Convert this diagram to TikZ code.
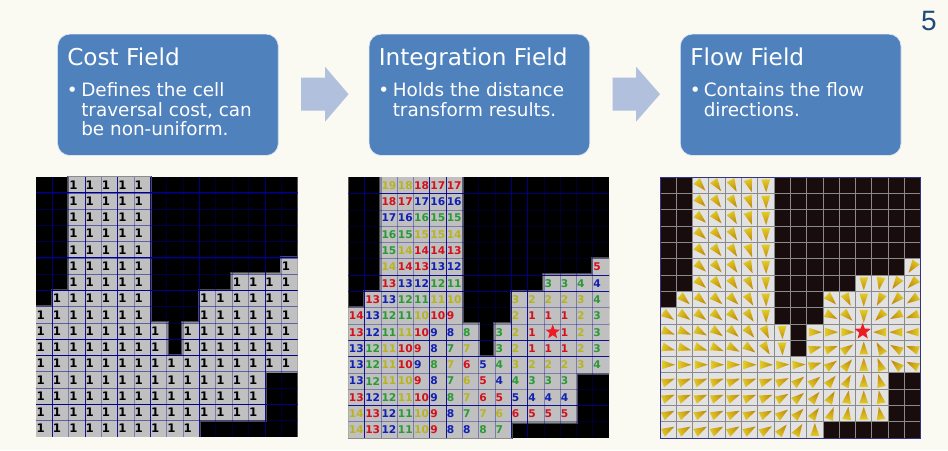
\documentclass[tikz,border=0pt]{standalone}
\usepackage{fontspec}
\setmainfont{DejaVu Sans}
\newfontfamily\pagefont{Liberation Sans}
\usetikzlibrary{shapes.geometric}
\definecolor{pagebg}{HTML}{FAF9F2}
\definecolor{boxblue}{HTML}{4F81BD}
\definecolor{boxedge}{HTML}{DCE6F1}
\definecolor{arrowblue}{HTML}{B0C0DD}
\definecolor{pagenum}{HTML}{1F497D}
\definecolor{cellgray}{HTML}{C0C0C0}
\definecolor{gridblue}{HTML}{00008C}
\definecolor{flowcell}{HTML}{E2E2E2}
\definecolor{flowdark}{HTML}{180C0C}
\definecolor{flowgrid}{HTML}{8A8A8A}
\definecolor{flowedge}{HTML}{33338A}
\definecolor{wedgetip}{HTML}{C08C0C}
\definecolor{wedgebase}{HTML}{E2CC28}
\definecolor{numy}{HTML}{B8B420}
\definecolor{numr}{HTML}{D4101C}
\definecolor{numg}{HTML}{2A9A34}
\definecolor{numb}{HTML}{1020B4}
\definecolor{starred}{HTML}{ED1C24}
\tikzset{
  fieldbox/.style={anchor=north west,rounded corners=9pt,fill=boxblue,draw=boxedge,line width=.5pt,
    minimum width=165.5pt,minimum height=91pt,inner sep=0pt},
  boxtitle/.style={anchor=base west,inner sep=0pt,text=white,font=\fontsize{17.4}{20}\selectfont},
  boxbody/.style={anchor=north west,inner sep=0pt,text=white,align=left,font=\fontsize{13.8}{14.85}\selectfont},
  boxbullet/.style={anchor=base,inner sep=0pt,text=white,font=\fontsize{13.8}{14.85}\selectfont},
  blockarrow/.style={fill=arrowblue},
  costnum/.style={anchor=west,inner sep=0pt,font=\fontsize{8.8}{9}\selectfont\bfseries,text=black},
  intnum/.style={anchor=west,inner sep=0pt,font=\fontsize{8}{9}\selectfont\bfseries},
  goalstar/.style={star,star points=5,star point ratio=2.4,fill=starred,inner sep=0pt},
}
% free-cell ranges: row/first/last
\def\freeranges{0/2/6,1/2/6,2/2/6,3/2/6,4/2/6,5/2/6,5/15/15,6/2/6,6/12/15,7/1/6,7/10/15,8/0/6,8/10/15,9/0/7,9/9/15,10/0/7,10/9/15,11/0/15,12/0/13,13/0/13,14/0/13,15/0/9}
\begin{document}
\begin{tikzpicture}[x=.75pt,y=-.75pt]
\useasboundingbox (0,0) rectangle (948,450);
\fill[pagebg] (0,0) rectangle (948,450);

% header boxes
\node[fieldbox] (box1) at (57.3,33.8) {};
\node[fieldbox] (box2) at (368.8,33.8) {};
\node[fieldbox] (box3) at (680,33.8) {};

\node[boxtitle] (t1) at (67,65) {Cost Field};
\node[boxbullet] (b1) at (72.3,96) {•};
\node[boxbody] (d1) at (81,82) {Defines the cell\\traversal cost, can\\be non-uniform.};

\node[boxtitle] (t2) at (378.5,65) {Integration Field};
\node[boxbullet] (b2) at (383.8,96) {•};
\node[boxbody] (d2) at (392.5,82) {Holds the distance\\transform results.};

\node[boxtitle] (t3) at (690,65) {Flow Field};
\node[boxbullet] (b3) at (695.3,96) {•};
\node[boxbody] (d3) at (703.5,82) {Contains the flow\\directions.};

% block arrows
\fill[blockarrow] (301,77.7)--(325,77.7)--(325,66.7)--(348.5,94.2)--(325,121.7)--(325,110.7)--(301,110.7)--cycle;
\fill[blockarrow] (612.7,77.7)--(636,77.7)--(636,66.7)--(660,94.2)--(636,121.7)--(636,110.7)--(612.7,110.7)--cycle;

\node[anchor=base east,inner sep=0pt,text=pagenum,font=\fontsize{21}{24}\pagefont] (pg) at (937,30) {5};

% ---------- Cost field ----------
\def\Ox{36}\def\Oy{176.7}\def\Cw{16.35}\def\Ch{16.25}
\begin{scope}
\clip (\Ox,\Oy) rectangle ++(16*\Cw,16*\Ch);
\fill[black] (\Ox,\Oy) rectangle ++(16*\Cw,16*\Ch);
\foreach \r/\a/\b in \freeranges {
  \path[draw=black!70!white,line width=2.6pt,fill=black!70!white]
    ({\Ox+\a*\Cw},{\Oy+\r*\Ch}) rectangle ({\Ox+(\b+1)*\Cw},{\Oy+(\r+1)*\Ch});
}
\foreach \r/\a/\b in \freeranges {
  \path[draw=black!45!white,line width=1.2pt,fill=black!45!white]
    ({\Ox+\a*\Cw},{\Oy+\r*\Ch}) rectangle ({\Ox+(\b+1)*\Cw},{\Oy+(\r+1)*\Ch});
}
\foreach \r/\a/\b in \freeranges {
  \fill[cellgray] ({\Ox+\a*\Cw},{\Oy+\r*\Ch}) rectangle ({\Ox+(\b+1)*\Cw},{\Oy+(\r+1)*\Ch});
}
\foreach \i in {1,...,15} {
  \draw[gridblue,line width=.6pt,opacity=.35] ({\Ox+\i*\Cw},\Oy) -- ++(0,16*\Ch);
  \draw[gridblue,line width=.6pt,opacity=.5] (\Ox,{\Oy+\i*\Ch}) -- ++(16*\Cw,0);
}
\foreach \i in {1,3,5,7,10,14} \draw[gridblue,line width=.6pt,opacity=.85] ({\Ox+\i*\Cw},\Oy) -- ++(0,16*\Ch);
\foreach \i in {1,5,7,10,11,14} \draw[gridblue,line width=.7pt] (\Ox,{\Oy+\i*\Ch}) -- ++(16*\Cw,0);
\end{scope}
\foreach \r/\a/\b in \freeranges {
  \foreach \c in {\a,...,\b} {
    \node[costnum] (cost-\r-\c) at ({\Ox+\c*\Cw+.3},{\Oy+(\r+.5)*\Ch}) {1};
  }
}

% ---------- Integration field ----------
\def\Ox{348.3}\def\Oy{177.3}\def\Cw{16.3}\def\Ch{16.3}
\begin{scope}
\clip (\Ox,\Oy) rectangle ++(16*\Cw,16*\Ch);
\fill[black] (\Ox,\Oy) rectangle ++(16*\Cw,16*\Ch);
\foreach \r/\a/\b in \freeranges {
  \path[draw=black!70!white,line width=2.6pt,fill=black!70!white]
    ({\Ox+\a*\Cw},{\Oy+\r*\Ch}) rectangle ({\Ox+(\b+1)*\Cw},{\Oy+(\r+1)*\Ch});
}
\foreach \r/\a/\b in \freeranges {
  \path[draw=black!45!white,line width=1.2pt,fill=black!45!white]
    ({\Ox+\a*\Cw},{\Oy+\r*\Ch}) rectangle ({\Ox+(\b+1)*\Cw},{\Oy+(\r+1)*\Ch});
}
\foreach \r/\a/\b in \freeranges {
  \fill[cellgray] ({\Ox+\a*\Cw},{\Oy+\r*\Ch}) rectangle ({\Ox+(\b+1)*\Cw},{\Oy+(\r+1)*\Ch});
}
\foreach \i in {1,...,15} {
  \draw[gridblue,line width=.6pt,opacity=.35] ({\Ox+\i*\Cw},\Oy) -- ++(0,16*\Ch);
  \draw[gridblue,line width=.6pt,opacity=.35] (\Ox,{\Oy+\i*\Ch}) -- ++(16*\Cw,0);
}
\foreach \i in {1,5,6,10,11} \draw[gridblue,line width=.6pt,opacity=.85] ({\Ox+\i*\Cw},\Oy) -- ++(0,16*\Ch);
\foreach \i in {1,6,7,10,11,14} \draw[gridblue,line width=.6pt,opacity=.85] (\Ox,{\Oy+\i*\Ch}) -- ++(16*\Cw,0);
\end{scope}
\foreach \r/\s/\vals in {
 0/2/{19/y,18/y,18/r,17/r,17/r},
 1/2/{18/r,17/r,17/b,16/b,16/b},
 2/2/{17/b,16/b,16/g,15/g,15/g},
 3/2/{16/g,15/g,15/y,15/y,14/y},
 4/2/{15/g,14/y,14/r,14/r,13/r},
 5/2/{14/y,14/r,13/r,13/b,12/b},
 5/15/{5/r},
 6/2/{13/r,13/b,12/b,12/g,11/g},
 6/12/{3/g,3/g,4/g,4/b},
 7/1/{13/r,13/b,12/g,11/g,11/y,10/y},
 7/10/{3/y,2/y,2/y,2/y,3/y,4/g},
 8/0/{14/r,13/b,12/g,11/g,10/y,10/r,9/r},
 8/10/{2/y,1/r,1/r,1/r,2/y,3/g},
 9/0/{13/r,12/b,11/g,11/y,10/r,9/b,8/b,8/g},
 9/9/{3/g,2/y,1/r},
 9/13/{1/r,2/y,3/g},
 10/0/{13/b,12/g,11/y,10/r,9/r,8/b,7/g,7/y},
 10/9/{3/g,2/y,1/r,1/r,1/r,2/y,3/g},
 11/0/{13/b,12/g,11/y,10/r,9/b,8/g,7/y,6/r,5/b,4/g,3/y,2/y,2/y,2/y,3/y,4/g},
 12/0/{13/b,12/g,11/y,10/y,9/r,8/b,7/g,6/y,5/r,4/b,4/g,3/g,3/g,3/g},
 13/0/{13/r,12/b,12/g,11/y,10/r,9/b,8/g,7/y,6/r,5/r,5/b,4/b,4/b,4/b},
 14/0/{14/y,13/r,12/b,11/g,10/y,9/r,8/b,7/g,7/y,6/y,6/r,5/r,5/r,5/r},
 15/0/{14/y,13/r,12/b,11/g,10/y,9/r,8/b,8/b,8/g,7/g}} {
  \foreach \v/\k [count=\c from \s] in \vals {
    \node[intnum,text=num\k] (int-\r-\c) at ({\Ox+\c*\Cw+.4},{\Oy+(\r+.5)*\Ch}) {\v};
  }
}
\node[goalstar,minimum size=11.5pt] (goalA) at (552.7,332) {};

% ---------- Flow field ----------
\def\Ox{660}\def\Oy{177.3}\def\Cw{16.3}\def\Ch{16.3}
\fill[flowdark] (\Ox,\Oy) rectangle ++(16*\Cw,16*\Ch);
\foreach \r/\a/\b in \freeranges {
  \fill[flowcell] ({\Ox+\a*\Cw},{\Oy+\r*\Ch}) rectangle ({\Ox+(\b+1)*\Cw},{\Oy+(\r+1)*\Ch});
}
\foreach \i in {1,...,15} {
  \draw[flowgrid,line width=.75pt] ({\Ox+\i*\Cw},\Oy) -- ++(0,16*\Ch);
  \draw[flowgrid,line width=.75pt] (\Ox,{\Oy+\i*\Ch}) -- ++(16*\Cw,0);
}
\draw[flowedge,line width=.6pt] (\Ox,\Oy) rectangle ++(16*\Cw,16*\Ch);
\foreach \r/\s/\vals in {
 0/2/{-48,-55,-62,-72,-88},
 1/2/{-45,-55,-58,-70,-88},
 2/2/{-42,-50,-60,-72,-88},
 3/2/{-42,-48,-58,-72,-88},
 4/2/{-45,-52,-58,-70,-88},
 5/2/{-42,-50,-55,-65,-88},
 5/15/{-125},
 6/2/{-42,-50,-55,-62,-88},
 6/12/{-90,-100,-125,-135},
 7/1/{-42,-40,-42,-45,-60,-88},
 7/10/{-45,-63,-90,-117,-135,-146},
 8/0/{-35,-35,-38,-40,-45,-55,-88},
 8/10/{-27,-45,-90,-135,-153,-162},
 9/0/{-20,-22,-28,-35,-42,-50,-65,-88},
 9/9/{0,0,0},
 9/13/{180,180,180},
 10/0/{-15,-15,-18,-22,-28,-35,-58,-88},
 10/9/{15,20,35,90,120,150,160},
 11/0/{0,0,0,0,0,0,0,3,3,18,35,50,90,110,140,155},
 12/0/{20,20,20,20,20,20,20,25,38,38,50,62,90,105},
 13/0/{22,22,22,22,22,22,22,30,40,50,60,80,90,100},
 14/0/{25,25,25,25,25,25,25,35,45,55,68,82,90,100},
 15/0/{28,28,28,28,30,30,32,50,58,90}} {
  \foreach \a [count=\c from \s] in \vals {
    \pgfmathsetmacro\sa{\a-90}
    \shade[shift={({\Ox+(\c+.5)*\Cw},{\Oy+(\r+.5)*\Ch})},rotate=\a,
      top color=wedgetip,bottom color=wedgebase,shading angle=\sa]
      (-6,-4.4) -- (7,0) -- (-6,4.4) -- cycle;
  }
}
\node[goalstar,minimum size=13pt] (goalB) at (862.7,331.5) {};
\end{tikzpicture}
\end{document}
